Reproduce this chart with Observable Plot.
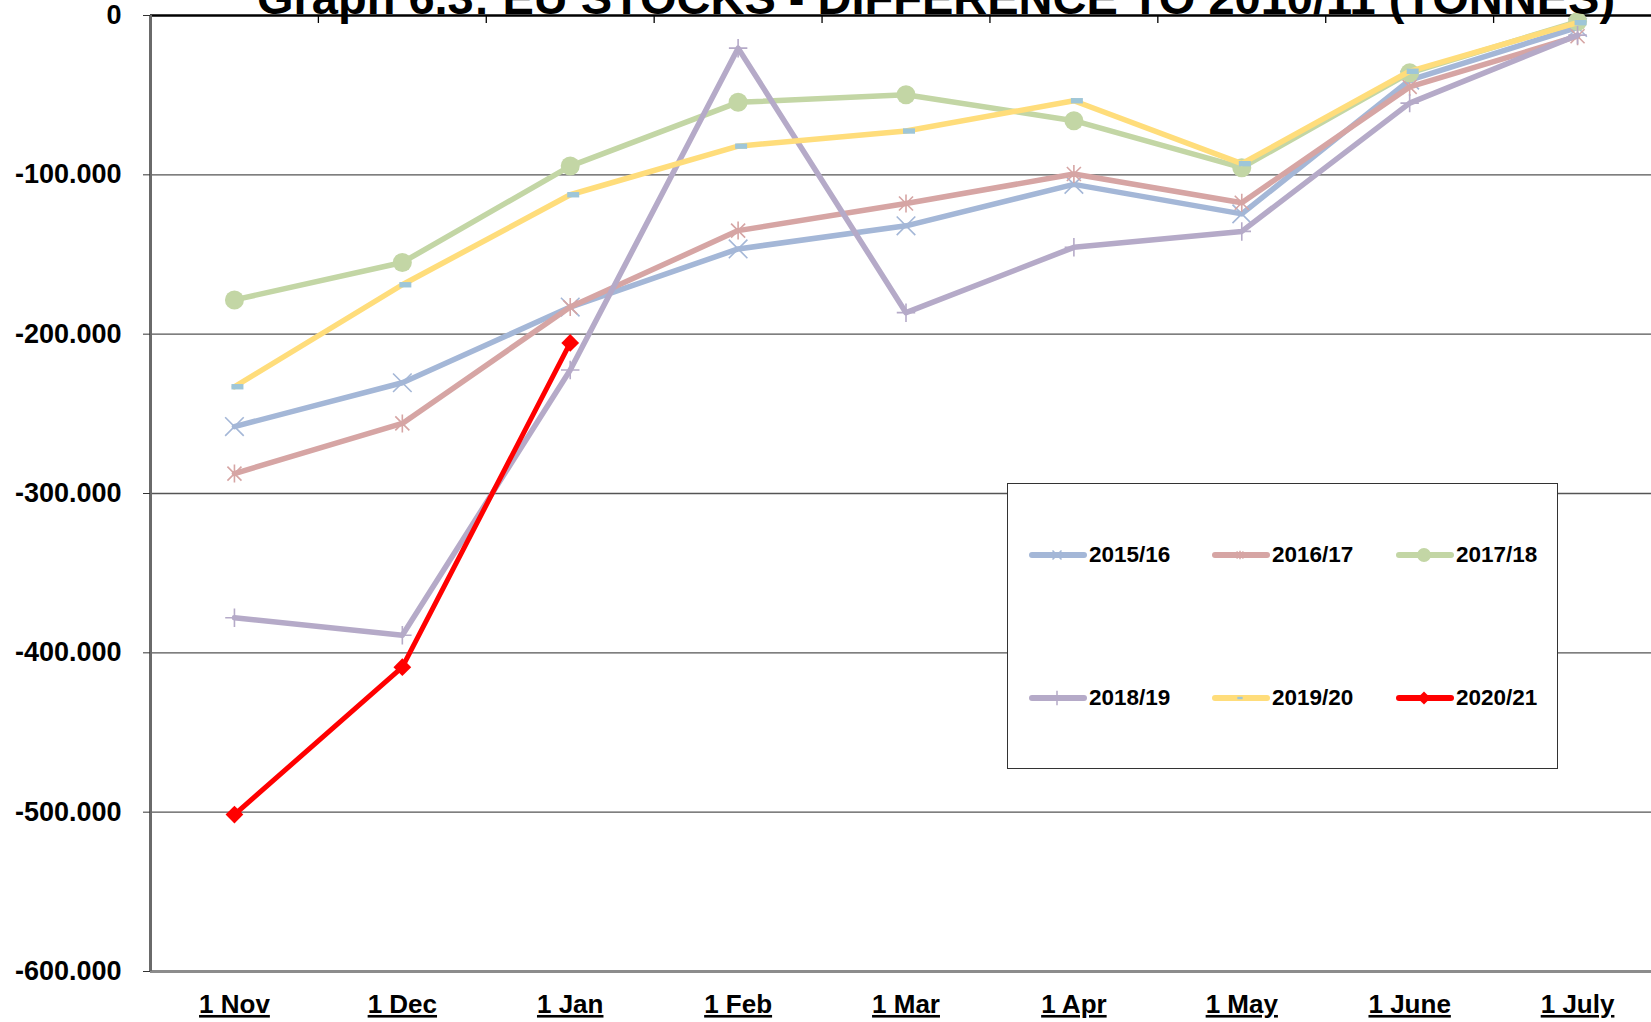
<!DOCTYPE html>
<html><head><meta charset="utf-8">
<script src="https://cdn.jsdelivr.net/npm/d3@7"></script>
<script src="https://cdn.jsdelivr.net/npm/@observablehq/plot@0.6"></script>
<style>
body{margin:0;background:#fff;}
#wrap{position:relative;width:1651px;height:1022px;overflow:hidden;font-family:Arial,"Liberation Sans",sans-serif;background:#fff;}
#title{position:absolute;left:936px;top:-26px;transform:translateX(-50%);white-space:nowrap;font-size:47px;line-height:47px;font-weight:bold;color:#000;z-index:3;}
#chart{position:absolute;left:0;top:0;}
g[aria-label="x-axis tick label"] text{text-decoration:underline;}
#legend{position:absolute;left:1007px;top:483px;width:551px;height:286px;border:1.5px solid #333;background:#fff;z-index:2;box-sizing:border-box;}
.li{position:absolute;display:flex;align-items:center;height:30px;font-size:22.5px;font-weight:bold;color:#000;}
.li svg{display:block;}
</style>
</head><body>
<div id="wrap">
  <div id="title">Graph 6.3: EU STOCKS - DIFFERENCE TO 2010/11 (TONNES)</div>
  <div id="chart"></div>
  <div id="legend"></div>
</div>
<script>
const months = ["1 Nov","1 Dec","1 Jan","1 Feb","1 Mar","1 Apr","1 May","1 June","1 July"];
const yTicks = [0,-100000,-200000,-300000,-400000,-500000,-600000];
const seriesNames = ["2015/16","2016/17","2017/18","2018/19","2019/20","2020/21"];
const s2015_16 = [-258000,-230500,-183000,-146500,-132000,-106000,-124500,-40500,-7500];
const s2016_17 = [-287500,-256000,-183000,-135000,-118000,-99500,-117500,-44800,-13000];
const s2017_18 = [-178500,-155000,-94500,-54500,-49700,-66000,-95500,-36000,-3800];
const s2018_19 = [-378000,-389000,-222500,-20500,-186500,-145500,-135500,-55000,-12300];
const s2019_20 = [-233000,-169000,-112500,-82000,-72500,-53500,-93000,-35000,-4500];
const s2020_21 = [-501500,-409000,-205500];
const seriesColors = ["#a4b7d7","#d6a5a4","#c3d6a5","#b5aac8","#ffdd7b","#ff0000"];
const markerColors = ["#a4b7d7","#d6a5a4","#c3d6a5","#b5aac8","#9ec6d8","#ff0000"];
const allValues = [s2015_16,s2016_17,s2017_18,s2018_19,s2019_20,s2020_21];

const fmt0 = d3.formatLocale({decimal:",",thousands:".",grouping:[3],currency:["",""],minus:"-"}).format(",");

const starSym = {draw(ctx,size){const r=Math.sqrt(size/Math.PI);const d=r*0.78;
  ctx.moveTo(0,-r);ctx.lineTo(0,r);ctx.moveTo(-d,-d);ctx.lineTo(d,d);ctx.moveTo(-d,d);ctx.lineTo(d,-d);}};
const dashSym = {draw(ctx,size){const r=Math.sqrt(size/Math.PI);ctx.rect(-r,-r*0.45,2*r,r*0.9);}};

const markerSpec = [
  {symbol:"times", r:8.5, fill:"none", strokeWidth:1.6},
  {symbol:starSym, r:9, fill:"none", strokeWidth:1.6},
  {symbol:"circle", r:9.5, fill:true, strokeWidth:0},
  {symbol:"plus", r:6, fill:"none", strokeWidth:1.6},
  {symbol:dashSym, r:6, fill:true, strokeWidth:0, dx:3},
  {symbol:"diamond2", r:8, fill:true, strokeWidth:0}
];

const marks = [
  Plot.ruleY(yTicks.slice(1,6), {stroke:"#555", strokeWidth:1.3}),
  Plot.ruleY([-600000], {stroke:"#8c8c8c", strokeWidth:3}),
  Plot.ruleY([0], {stroke:"#000", strokeWidth:2.5}),
  Plot.ruleX(d3.range(0.5, 8, 1), {y1:0, y2:-5000, stroke:"#000", strokeWidth:1.3}),
  Plot.ruleX([-0.5], {stroke:"#6a6a6a", strokeWidth:3}),
  Plot.axisY({ticks:yTicks, tickFormat:fmt0, tickSize:7, tickPadding:22, fontSize:27, fontWeight:"bold", fill:"#000", stroke:"#333"}),
  Plot.axisX({ticks:d3.range(9), tickFormat:i=>months[i], tickSize:0, tickPadding:23, fontSize:26, fontWeight:"bold", fill:"#000"})
];
allValues.forEach((vals,k)=>{
  const rows = vals.map((v,i)=>({i, v}));
  marks.push(Plot.line(rows, {x:"i", y:"v", stroke:seriesColors[k], strokeWidth:k===5?5:5.5}));
  const m = markerSpec[k];
  const opts = {x:"i", y:"v", r:m.r, dx:m.dx||0};
  if (m.fill===true) { opts.fill = markerColors[k]; opts.stroke = "none"; }
  else { opts.fill = "none"; opts.stroke = markerColors[k]; opts.strokeWidth = m.strokeWidth; }
  opts.symbol = m.symbol;
  marks.push(Plot.dot(rows, opts));
});

const chart = Plot.plot({
  width:1651, height:1022,
  marginLeft:150, marginRight:-10, marginTop:15, marginBottom:51,
  x:{domain:[-0.5,8.5], label:null},
  y:{domain:[-600000,0], label:null},
  style:{fontFamily:'Arial, "Liberation Sans", sans-serif', background:"transparent", overflow:"visible"},
  marks
});
document.getElementById("chart").appendChild(chart);

// legend
const legend = document.getElementById("legend");
const legendPos = [[20,71],[203,71],[387,71],[20,214],[203,214],[387,214]];
const legendMarker = [
  {type:d3.symbolTimes, size:55, fill:false},
  {type:starSym, size:60, fill:false},
  {type:d3.symbolCircle, size:150, fill:true},
  {type:d3.symbolPlus, size:70, fill:false},
  {type:dashSym, size:22, fill:true},
  {type:d3.symbolDiamond2, size:110, fill:true}
];
seriesNames.forEach((name,k)=>{
  const div = document.createElement("div");
  div.className = "li";
  div.style.left = legendPos[k][0] + "px";
  div.style.top = (legendPos[k][1]-15) + "px";
  const lm = legendMarker[k];
  const p = d3.symbol(lm.type, lm.size)();
  const mk = lm.fill ? `<path d="${p}" transform="translate(29,15)" fill="${markerColors[k]}"/>`
                     : `<path d="${p}" transform="translate(29,15)" fill="none" stroke="${markerColors[k]}" stroke-width="1.5"/>`;
  div.innerHTML = `<svg width="60" height="30"><line x1="4" y1="15" x2="56" y2="15" stroke="${seriesColors[k]}" stroke-width="6" stroke-linecap="round"/>${mk}</svg><span style="margin-left:1px">${name}</span>`;
  legend.appendChild(div);
});
</script>
</body></html>
